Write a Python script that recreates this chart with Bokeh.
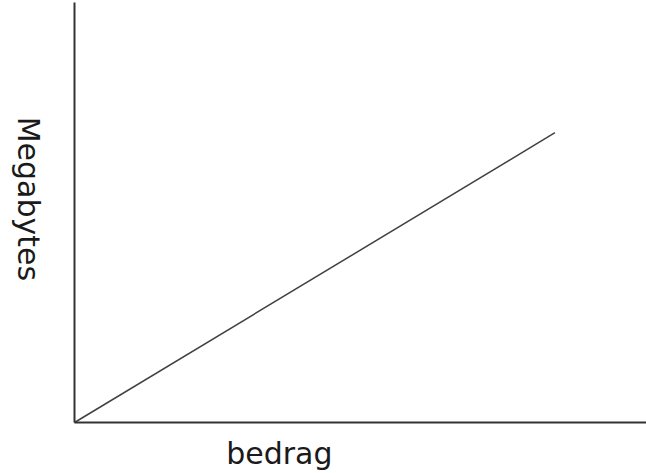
from bokeh.plotting import figure
from bokeh.models import Range1d, Label, LinearAxis, FixedTicker
from bokeh.embed import file_html
from bokeh.resources import INLINE

# data
x_vals = [0, 84]
y_vals = [0, 70]
x_label = "bedrag"
y_label = "Megabytes"

p = figure(width=646, height=473, output_backend="svg", toolbar_location=None,
           x_range=Range1d(-12.94, 100), y_range=Range1d(-12.32, 101.93),
           x_axis_location=None, y_axis_location=None,
           min_border_left=0, min_border_right=0, min_border_top=0, min_border_bottom=0)
p.grid.visible = False
p.outline_line_color = None
p.background_fill_color = "white"
p.border_fill_color = "white"

xax = LinearAxis(fixed_location=0, bounds=(0, 100), ticker=FixedTicker(ticks=[]))
yax = LinearAxis(fixed_location=0, bounds=(0, 101.5), ticker=FixedTicker(ticks=[]))
for ax in (xax, yax):
    ax.major_tick_line_color = None
    ax.minor_tick_line_color = None
    ax.axis_line_color = "#333333"
    ax.axis_line_width = 2
p.add_layout(xax, "below")
p.add_layout(yax, "left")

p.line(x_vals, y_vals, line_color="#404040", line_width=1.5)

p.add_layout(Label(x=35.8, y=-7.5, text=x_label,
                   text_font="DejaVu Sans", text_font_size="30px", text_color="#1a1a1a",
                   text_align="center", text_baseline="alphabetic"))
p.add_layout(Label(x=-8.0, y=54.0, text=y_label,
                   angle=-1.5707963, text_font="DejaVu Sans", text_font_size="30px",
                   text_color="#1a1a1a", text_align="center", text_baseline="middle"))

open("out.html", "w").write(file_html(p, INLINE))
